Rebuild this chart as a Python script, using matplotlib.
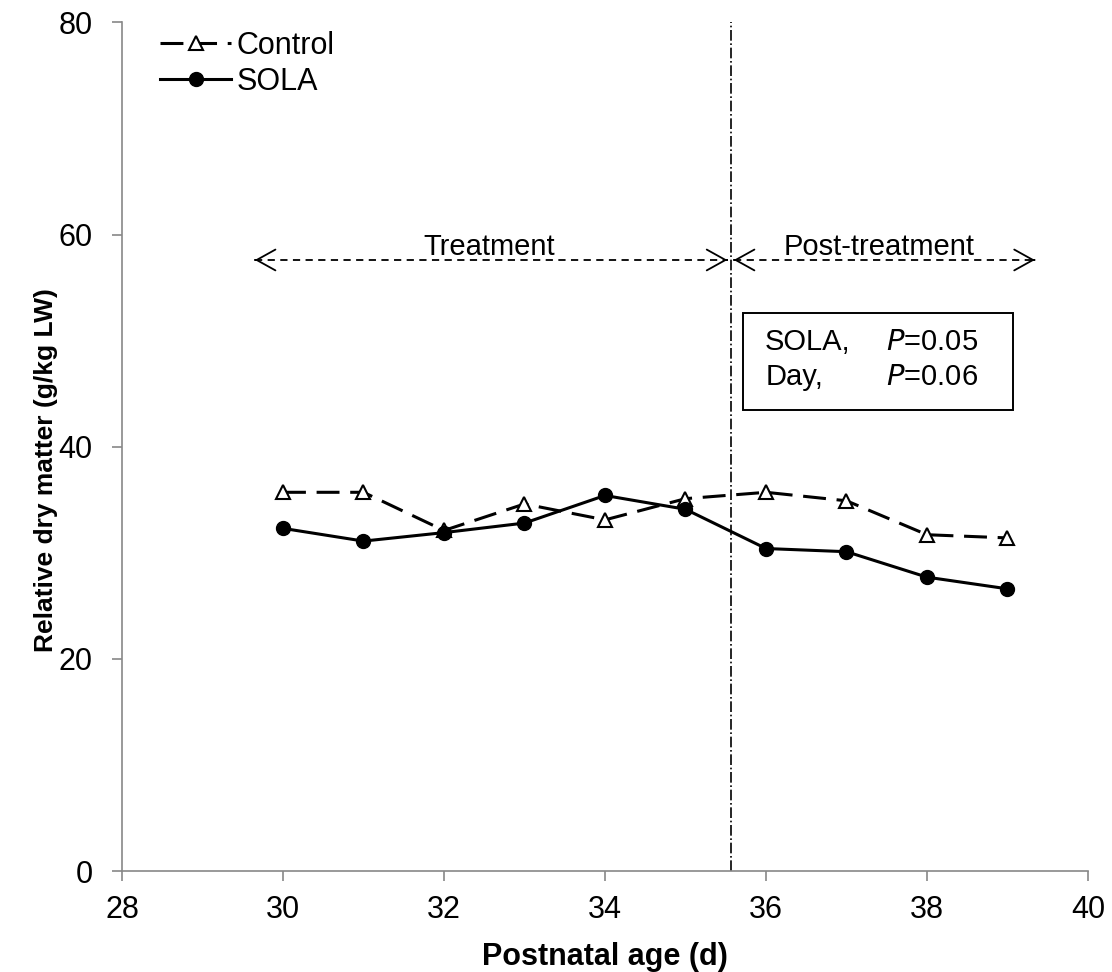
import matplotlib
matplotlib.use('Agg')
from matplotlib import pyplot as plt
from matplotlib.patches import Rectangle

plt.rcParams['font.family'] = ['Liberation Sans', 'DejaVu Sans']

days = [30, 31, 32, 33, 34, 35, 36, 37, 38, 39]
control = [35.7, 35.7, 32.1, 34.6, 33.1, 35.1, 35.7, 34.9, 31.7, 31.4]
sola = [32.3, 31.1, 31.9, 32.8, 35.4, 34.1, 30.4, 30.1, 27.7, 26.6]

split_day = 35.56
stats_names = ['SOLA,', 'Day,']
stats_p = ['0.05', '0.06']


def period_arrow(ax, x0, x1, y):
  # dashed shaft with solid open heads at both ends
  ax.plot([x0, x1], [y, y], color='black', linestyle=(0, (4, 3)), linewidth=1.3)
  head = dict(arrowstyle='->,head_length=0.45,head_width=0.25', color='black',
              lw=1.3, mutation_scale=30, shrinkA=0, shrinkB=0)
  ax.annotate('', xy=(x0, y), xytext=(x0 + 0.01, y), arrowprops=head)
  ax.annotate('', xy=(x1, y), xytext=(x1 - 0.01, y), arrowprops=head)


fig = plt.figure(figsize=(11.12, 9.72), dpi=100)
ax = fig.add_axes([0.1097, 0.1039, 0.8687, 0.8731])

ax.plot(days, control, color='black', linestyle=(0, (7.5, 3.5)), linewidth=2.2,
        marker='^', markersize=9.5, markerfacecolor='white', markeredgecolor='black',
        markeredgewidth=1.5, label='Control')
ax.plot(days, sola, color='black', linestyle='-', linewidth=2.2,
        marker='o', markersize=10, markerfacecolor='black', label='SOLA')

# split between treatment and post-treatment periods
ax.axvline(split_day, color='black', linestyle='-.', linewidth=1.2)

period_arrow(ax, 29.65, 35.52, 57.6)
period_arrow(ax, 35.6, 39.34, 57.6)
ax.text(32.56, 58.1, 'Treatment', ha='center', va='baseline', fontsize=21)
ax.text(37.4, 58.1, 'Post-treatment', ha='center', va='baseline', fontsize=21)

# stats box
ax.add_patch(Rectangle((35.71, 43.45), 3.36, 9.14, facecolor='white',
                       edgecolor='black', lw=1.4, zorder=3))
for i, (name, p) in enumerate(zip(stats_names, stats_p)):
  y = 49.86 - i * 3.3
  ax.text(35.99, y, name, ha='left', va='center', fontsize=21, zorder=4)
  ax.text(37.49, y, '$\\it{P}$=' + p, ha='left', va='center', fontsize=21, zorder=4)

ax.set_xlim(28, 40)
ax.set_ylim(0, 80)
ax.set_xticks(range(28, 41, 2))
ax.set_yticks(range(0, 81, 20))
ax.tick_params(labelsize=22, color='#888888', length=7, width=1.2, direction='out')
ax.tick_params(axis='x', pad=10)
ax.tick_params(axis='y', pad=14)
for side in ['top', 'right']:
  ax.spines[side].set_visible(False)
for side in ['left', 'bottom']:
  ax.spines[side].set_color('#888888')
  ax.spines[side].set_linewidth(1.2)

ax.set_xlabel('Postnatal age (d)', fontsize=22, fontweight='bold')
ax.set_ylabel('Relative dry matter (g/kg LW)', fontsize=19, fontweight='bold')
ax.xaxis.set_label_coords(0.5, -0.084)
ax.yaxis.set_label_coords(-0.066, 0.472)

ax.legend(loc='upper left', bbox_to_anchor=(0.024, 1.008), frameon=False, fontsize=22,
          borderpad=0, handlelength=2.3, handletextpad=0.2, labelspacing=0.2)

fig.savefig('out.png', dpi=100)
plt.close(fig)
